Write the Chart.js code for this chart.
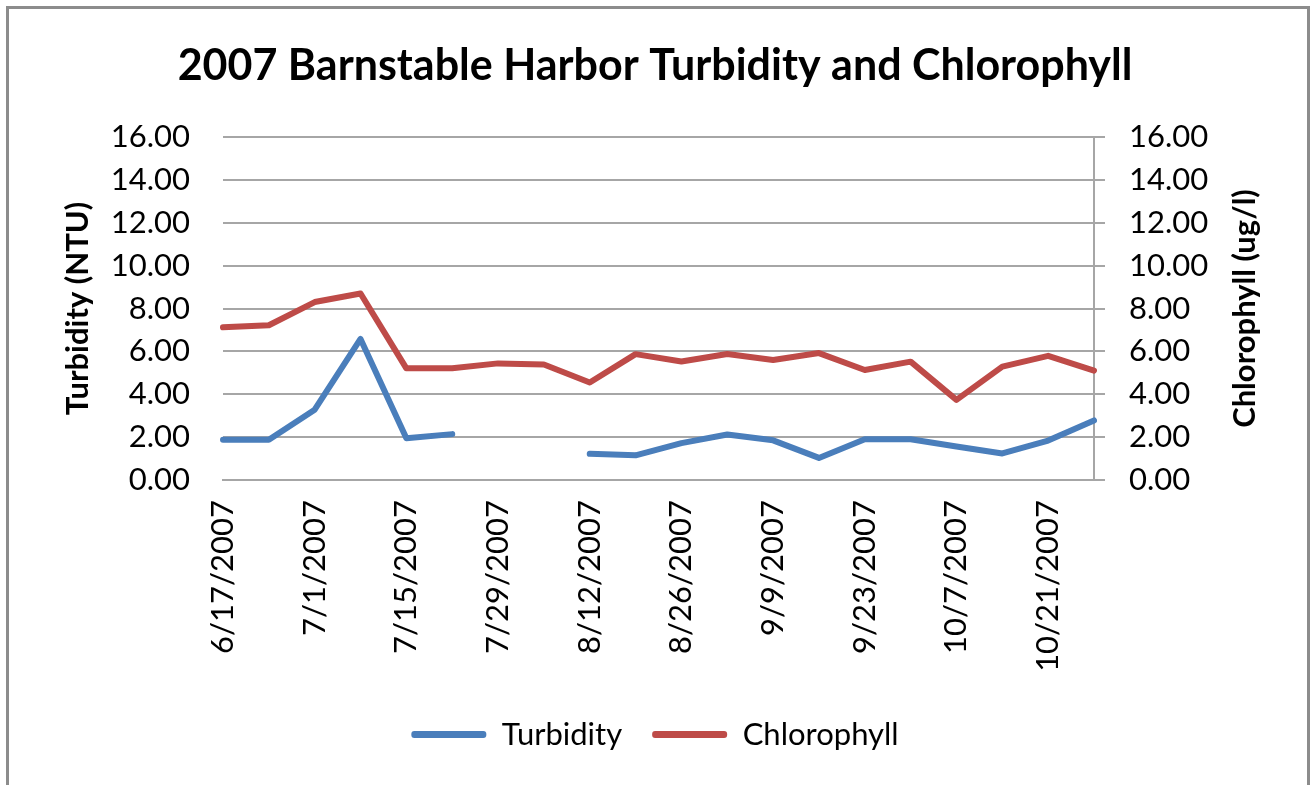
<!DOCTYPE html>
<html>
<head>
<meta charset="utf-8">
<script src="https://cdn.jsdelivr.net/npm/chart.js@4"></script>
<style>
  html, body { margin: 0; padding: 0; background: #fff; }
  #wrap { width: 1310px; height: 785px; position: relative; }
</style>
</head>
<body>
<div id="wrap"><canvas id="c" width="1310" height="785"></canvas></div>
<script>
const dates = ['6/17/2007','6/24/2007','7/1/2007','7/8/2007','7/15/2007','7/22/2007','7/29/2007','8/5/2007','8/12/2007','8/19/2007','8/26/2007','9/2/2007','9/9/2007','9/16/2007','9/23/2007','9/30/2007','10/7/2007','10/14/2007','10/21/2007','10/28/2007'];
const turbidity = [1.88,1.88,3.28,6.58,1.95,2.14,null,null,1.22,1.15,1.72,2.12,1.85,1.03,1.90,1.90,1.56,1.24,1.84,2.78];
const chlorophyll = [7.12,7.22,8.30,8.70,5.21,5.21,5.44,5.39,4.55,5.87,5.53,5.88,5.60,5.92,5.13,5.52,3.74,5.29,5.79,5.10];
const yTicks = [0,2,4,6,8,10,12,14,16];
const rightTitle = 'Chlorophyll (ug/l)';

const FONT = 'Lato, Calibri, Carlito, sans-serif';
const GRID = '#a6a6a6';

const framePlugin = {
  id: 'frame',
  afterDraw(chart) {
    const ctx = chart.ctx;
    ctx.save();
    ctx.strokeStyle = '#8c8c8c';
    ctx.lineWidth = 3;
    ctx.beginPath();
    ctx.moveTo(7.5, 790); ctx.lineTo(7.5, 7.5); ctx.lineTo(1308.5, 7.5); ctx.lineTo(1308.5, 790);
    ctx.stroke();
    // right axis title, reading bottom-to-top like the reference
    const a = chart.chartArea;
    ctx.translate(1245, (a.top + a.bottom) / 2);
    ctx.rotate(-Math.PI / 2);
    ctx.fillStyle = '#000';
    ctx.font = 'bold 31px ' + FONT;
    ctx.textAlign = 'center';
    ctx.textBaseline = 'middle';
    ctx.fillText(rightTitle, 0, 0);
    ctx.restore();
  }
};

new Chart(document.getElementById('c'), {
  type: 'line',
  data: {
    labels: dates,
    datasets: [
      { label: 'Turbidity', data: turbidity, yAxisID: 'y', borderColor: '#4a7ebb', backgroundColor: '#4a7ebb',
        borderWidth: 6, pointRadius: 0, tension: 0, spanGaps: false, borderCapStyle: 'round', borderJoinStyle: 'round' },
      { label: 'Chlorophyll', data: chlorophyll, yAxisID: 'y1', borderColor: '#be4b48', backgroundColor: '#be4b48',
        borderWidth: 6, pointRadius: 0, tension: 0, spanGaps: false, borderCapStyle: 'round', borderJoinStyle: 'round' }
    ]
  },
  options: {
    responsive: false,
    animation: false,
    layout: { padding: { top: 10, left: 0, right: 0, bottom: 25 } },
    plugins: {
      title: { display: true, text: '2007 Barnstable Harbor Turbidity and Chlorophyll', color: '#000',
        font: { family: FONT, size: 43, weight: 'bold' }, padding: { top: 30, bottom: 45.4 } },
      legend: { position: 'bottom',
        labels: { color: '#000', font: { family: FONT, size: 31 }, boxWidth: 75, boxHeight: 7, padding: 30,
          useBorderRadius: true, borderRadius: 3,
          generateLabels(chart) {
            const items = Chart.defaults.plugins.legend.labels.generateLabels(chart);
            items.forEach(it => { it.lineWidth = 0; it.strokeStyle = 'rgba(0,0,0,0)'; });
            return items;
          } } },
      tooltip: { enabled: false }
    },
    scales: {
      x: {
        offset: false,
        grid: { display: false, drawTicks: false },
        border: { display: true, color: GRID, width: 2 },
        ticks: { autoSkip: false, maxRotation: 90, minRotation: 90, padding: 20, color: '#000',
          font: { family: FONT, size: 31 },
          callback: function(v, i) { return i % 2 === 0 ? dates[i] : ''; } },
        afterFit(a) { a.height = 209; }
      },
      y: {
        position: 'left', min: 0, max: 16,
        afterBuildTicks(a) { a.ticks = yTicks.map(v => ({ value: v })); },
        grid: { color: GRID, lineWidth: 2, drawTicks: false },
        border: { display: false },
        ticks: { padding: 33, color: '#000', font: { family: FONT, size: 31 },
          callback: v => Number(v).toFixed(2) },
        title: { display: true, text: 'Turbidity (NTU)', color: '#000',
          font: { family: FONT, size: 31, weight: 'bold' }, padding: { top: 59, bottom: 0 } },
        afterFit(a) { a.width = 223; }
      },
      y1: {
        position: 'right', min: 0, max: 16,
        afterBuildTicks(a) { a.ticks = yTicks.map(v => ({ value: v })); },
        grid: { drawOnChartArea: false, color: GRID, lineWidth: 2, drawTicks: true, tickLength: 11 },
        border: { display: true, color: GRID, width: 2 },
        ticks: { padding: 24, color: '#000', font: { family: FONT, size: 31 },
          callback: v => Number(v).toFixed(2) },
        afterFit(a) { a.width = 216; }
      }
    }
  },
  plugins: [framePlugin]
});
</script>
</body>
</html>
